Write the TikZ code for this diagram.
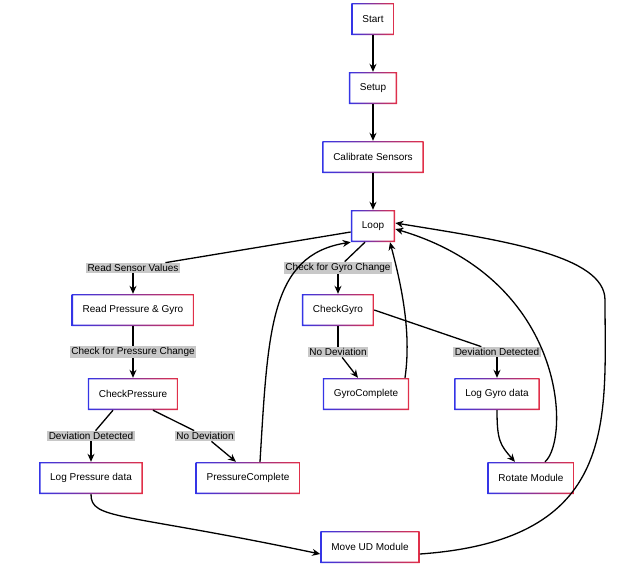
\documentclass[tikz,border=0pt]{standalone}
\usepackage{fontspec}
\setmainfont{Liberation Sans}
\usetikzlibrary{arrows.meta}
\definecolor{bb}{HTML}{3535E6}
\definecolor{rr}{HTML}{E23048}
\definecolor{lg}{HTML}{C8C8C8}
\begin{document}
\begin{tikzpicture}[x=1pt,y=-1pt,
 box/.style={fill=white,minimum height=32pt,inner xsep=11pt,font=\fontsize{10}{12}\selectfont,
  path picture={\shade[left color=bb,right color=rr,even odd rule]
   (path picture bounding box.south west) rectangle (path picture bounding box.north east)
   ([shift={(1.4pt,1.4pt)}]path picture bounding box.south west) rectangle ([shift={(-1.4pt,-1.4pt)}]path picture bounding box.north east);}},
 lab/.style={fill=lg,inner sep=1.5pt,font=\fontsize{10}{12}\selectfont},
 ar/.style={draw,line width=1.3pt,-{Stealth[length=8pt,width=7pt]}},
 ln/.style={draw,line width=1.3pt}]
\useasboundingbox (0,0) rectangle (639,573);
\node[box] (start) at (373,19) {Start};
\node[box] (setup) at (373,88) {Setup};
\node[box] (cal) at (373,157) {Calibrate Sensors};
\node[box] (loop) at (373,226) {Loop};
\node[box] (rpg) at (133,310) {Read Pressure \& Gyro};
\node[box] (cg) at (338,310) {CheckGyro};
\node[box] (cp) at (133,394) {CheckPressure};
\node[box] (gc) at (366,394) {GyroComplete};
\node[box] (lgd) at (497,394) {Log Gyro data};
\node[box] (lpd) at (91,478) {Log Pressure data};
\node[box] (pc) at (248,478) {PressureComplete};
\node[box] (rm) at (531,478) {Rotate Module};
\node[box] (mud) at (370,547) {Move UD Module};
\node[lab] (l1) at (133,268) {Read Sensor Values};
\node[lab] (l2) at (338,268) {Check for Gyro Change};
\node[lab] (l3) at (133,352) {Check for Pressure Change};
\node[lab] (l4) at (338,352) {No Deviation};
\node[lab] (l5) at (497,352) {Deviation Detected};
\node[lab] (l6) at (91,436) {Deviation Detected};
\node[lab] (l7) at (205,436) {No Deviation};
\draw[ar] (start) -- (setup);
\draw[ar] (setup) -- (cal);
\draw[ar] (cal) -- (loop);
\draw[ln] ([yshift=-6pt]loop.west) -- (l1);
\draw[ar] (l1) -- (rpg);
\draw[ln] ([xshift=-8pt]loop.south) -- (l2);
\draw[ar] (l2) -- (cg);
\draw[ln] (rpg) -- (l3);
\draw[ar] (l3) -- (cp);
\draw[ln] (cg) -- (l4);
\draw[ar] (l4) -- ([xshift=-8pt]gc.north);
\draw[ln] (cg.east) -- (l5);
\draw[ar] (l5) -- (lgd);
\draw[ln] ([xshift=-20pt]cp.south) -- (l6);
\draw[ar] (l6) -- (lpd);
\draw[ln] ([xshift=20pt]cp.south) -- (l7);
\draw[ar] (l7) -- ([xshift=-12pt]pc.north);
\draw[ar] ([xshift=12pt]pc.north) .. controls (268,330) and (270,255) .. (loop.south west);
\draw[ar] ([xshift=39pt]gc.north) .. controls (412,330) and (400,280) .. ([xshift=17pt]loop.south);
\draw[ar] (lgd.south) .. controls (497,440) and (500,445) .. ([xshift=-16pt]rm.north);
\draw[ar] ([xshift=14pt]rm.north) .. controls (570,440) and (568,280) .. ([yshift=-3pt]loop.east);
\draw[ar] (lpd.south) .. controls (91,520) and (120,512) .. ([yshift=-7pt]mud.west);
\draw[ar] ([yshift=-7pt]mud.east) .. controls (620,540) and (605,420) .. (605,300) .. controls (605,255) and (500,240) .. ([yshift=3pt]loop.east);
\end{tikzpicture}
\end{document}
